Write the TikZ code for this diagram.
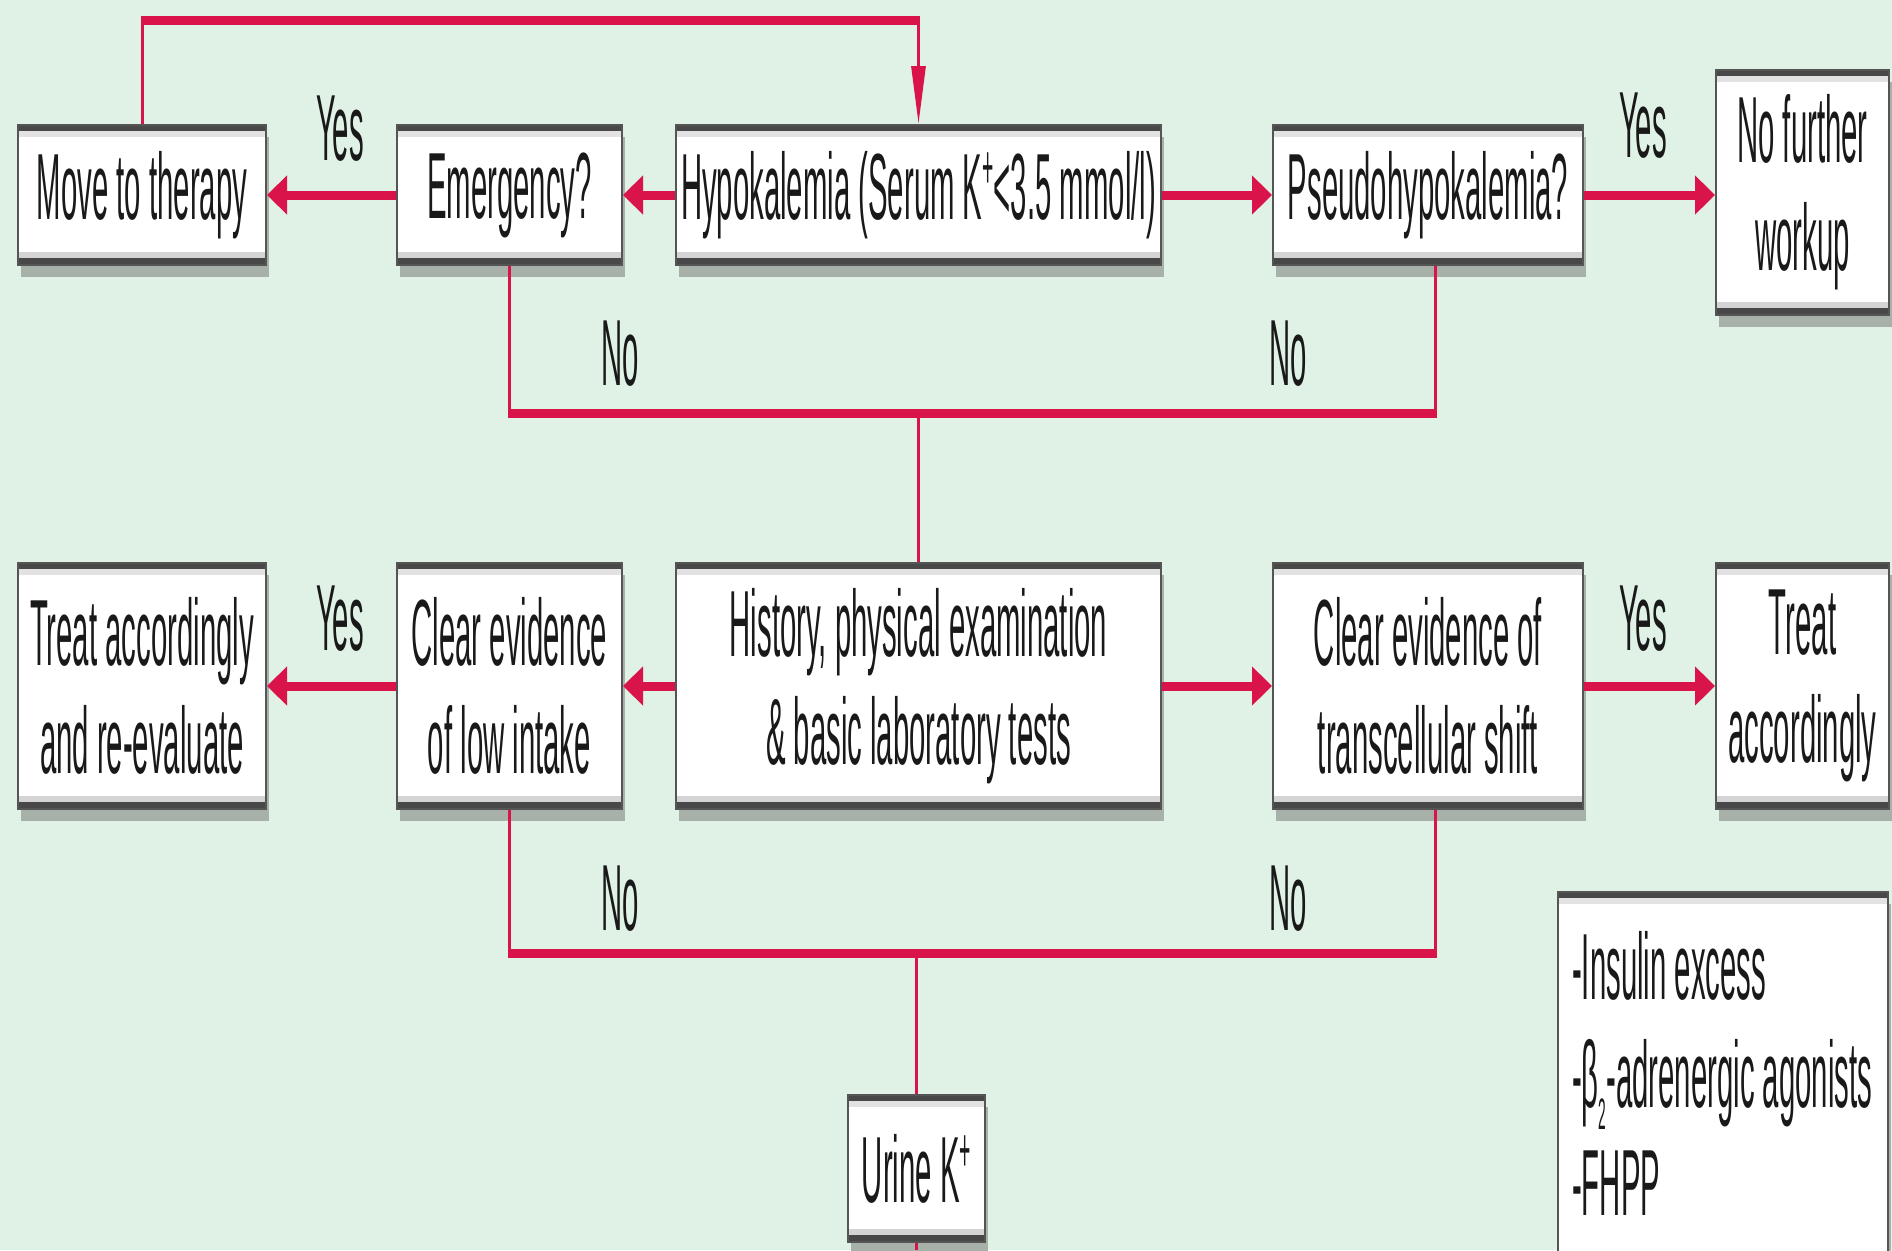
\documentclass[tikz,border=0pt]{standalone}
\usepackage{fontspec}
\usetikzlibrary{arrows.meta,calc,shadows}
\newfontfamily\flowfont[FakeStretch=0.312]{Liberation Sans}
\newcommand\flowtext{\flowfont\fontsize{94}{108}\selectfont}
\newcommand\supplus{\raisebox{0.33em}{\fontsize{62}{62}\selectfont +}}
\newcommand\subtwo{\raisebox{-0.24em}{\fontsize{44}{44}\selectfont 2}}
\definecolor{bggreen}{RGB}{224,241,230}
\definecolor{flowred}{RGB}{216,20,74}
\definecolor{barDark}{RGB}{72,72,72}
\definecolor{barLight}{RGB}{226,226,226}
\definecolor{barLow}{RGB}{212,212,212}
\definecolor{sideGrey}{RGB}{85,85,85}
\definecolor{shadeGrey}{RGB}{168,176,170}
\definecolor{inkBlack}{RGB}{25,25,25}
\tikzset{
  boxlook/.style={draw=sideGrey, line width=2pt, fill=white,
    drop shadow={shadow xshift=3pt, shadow yshift=-12pt, fill=shadeGrey, opacity=1},
    path picture={
      \coordinate (pnw) at (path picture bounding box.north west);
      \coordinate (pne) at (path picture bounding box.north east);
      \coordinate (psw) at (path picture bounding box.south west);
      \coordinate (pse) at (path picture bounding box.south east);
      \fill [barDark] (pnw) rectangle ($(pne)!6pt!(pse)$);
      \fill [barLight] ($(pnw)!6pt!(psw)$) rectangle ($(pne)!12pt!(pse)$);
      \fill [barLow] ($(psw)!13pt!(pnw)$) rectangle ($(pse)!7pt!(pne)$);
      \fill [barDark] ($(psw)!7pt!(pnw)$) rectangle (pse);
    }}
}
\begin{document}
\begin{tikzpicture}[x=1pt,y=1pt,yscale=-1,xscale=1,
  fbox/.style={boxlook, inner sep=0pt, align=center, font=\flowtext, text=inkBlack},
  lbl/.style={inner sep=0pt, anchor=base, font=\flowtext, text=inkBlack},
  busline/.style={draw=flowred, line width=9pt, shorten <=-1.5pt, shorten >=-1.5pt},
  drop/.style={draw=flowred, line width=3pt},
  harrow/.style={draw=flowred, line width=9pt, -{Triangle[length=20pt,width=38pt]}},
  varrow/.style={drop, -{Triangle[length=58pt,width=14pt]}}]
	\useasboundingbox (0,0) rectangle (1892,1250);
	\clip (0,0) rectangle (1892,1250);
	\fill [bggreen] (0,0) rectangle (1892,1250);
	
	% Text Node
	\draw (142,195) node [fbox, minimum width=248pt, minimum height=140pt] (mt) {Move to therapy};
	% Text Node
	\draw (509.5,195) node [fbox, minimum width=225pt, minimum height=140pt] (em) {Emergency?};
	% Text Node
	\draw (918.5,195) node [fbox, minimum width=485pt, minimum height=140pt] (hy) {Hypokalemia (Serum K\supplus<3.5 mmol/l)};
	% Text Node
	\draw (1428,195) node [fbox, minimum width=310pt, minimum height=140pt] (ps) {Pseudohypokalemia?};
	% Text Node
	\draw (1802.5,192.5) node [fbox, minimum width=173pt, minimum height=245pt] (nf) {No further\\workup};
	
	% Text Node
	\draw (142,686) node [fbox, minimum width=248pt, minimum height=246pt] (ta) {Treat accordingly\\and re-evaluate};
	% Text Node
	\draw (509.5,686) node [fbox, minimum width=225pt, minimum height=246pt] (cl) {Clear evidence\\of low intake};
	% Text Node
	\draw (918.5,686) node [fbox, minimum width=485pt, minimum height=246pt] (hi) {History, physical examination\\\& basic laboratory tests};
	% Text Node
	\draw (1428,686) node [fbox, minimum width=310pt, minimum height=246pt] (ct) {Clear evidence of\\transcellular shift};
	% Text Node
	\draw (1802.5,686) node [fbox, minimum width=173pt, minimum height=246pt] (tr) {Treat\\accordingly};
	
	% Text Node
	\draw (916.5,1168.5) node [fbox, minimum width=137pt, minimum height=147pt] (ur) {Urine K\supplus};
	
	%Shape: Rectangle
	\path [boxlook] (1558,892) rectangle (1888,1330);
	% Text Node
	\draw (1572,931) node [lbl, anchor=north west, align=left] (lg) {-Insulin excess\\-β\subtwo-adrenergic agonists\\-FHPP};
	
	% Text Node
	\draw (340,160) node [lbl] (yes1) {Yes};
	\draw (1643,157) node [lbl] (yes2) {Yes};
	\draw (340,650) node [lbl] (yes3) {Yes};
	\draw (1643,650) node [lbl] (yes4) {Yes};
	% Text Node
	\draw (620,385) node [lbl] (no1) {No};
	\draw (1288,385) node [lbl] (no2) {No};
	\draw (620,930) node [lbl] (no3) {No};
	\draw (1288,930) node [lbl] (no4) {No};
	
	\coordinate (top) at (0,20);
	\coordinate (mid) at (0,413);
	\coordinate (bot) at (0,953);
	\coordinate (edge) at (0,1250);
	\coordinate (psx) at ([xshift=7pt]ps.south);
	\coordinate (ctx) at ([xshift=7pt]ct.south);
	
	%Straight Lines
	\draw [drop] (mt.north) -- (mt.north |- top);
	\draw [busline] (mt.north |- top) -- (hy.north |- top);
	\draw [varrow] (hy.north |- top) -- (hy.north);
	%Straight Lines
	\draw [harrow] (em.west) -- (mt.east);
	\draw [harrow] (hy.west) -- (em.east);
	\draw [harrow] (hy.east) -- (ps.west);
	\draw [harrow] (ps.east) -- (ps.east -| nf.west);
	%Straight Lines
	\draw [drop] (em.south) -- (em.south |- mid);
	\draw [drop] (psx) -- (psx |- mid);
	\draw [busline] (em.south |- mid) -- (psx |- mid);
	\draw [drop] (hi.north |- mid) -- (hi.north);
	%Straight Lines
	\draw [harrow] (cl.west) -- (ta.east);
	\draw [harrow] (hi.west) -- (cl.east);
	\draw [harrow] (hi.east) -- (ct.west);
	\draw [harrow] (ct.east) -- (tr.west);
	%Straight Lines
	\draw [drop] (cl.south) -- (cl.south |- bot);
	\draw [drop] (ctx) -- (ctx |- bot);
	\draw [busline] (cl.south |- bot) -- (ctx |- bot);
	\draw [drop] (ur.north |- bot) -- (ur.north);
	\draw [drop] (ur.south) -- (ur.south |- edge);
	
\end{tikzpicture}
\end{document}
